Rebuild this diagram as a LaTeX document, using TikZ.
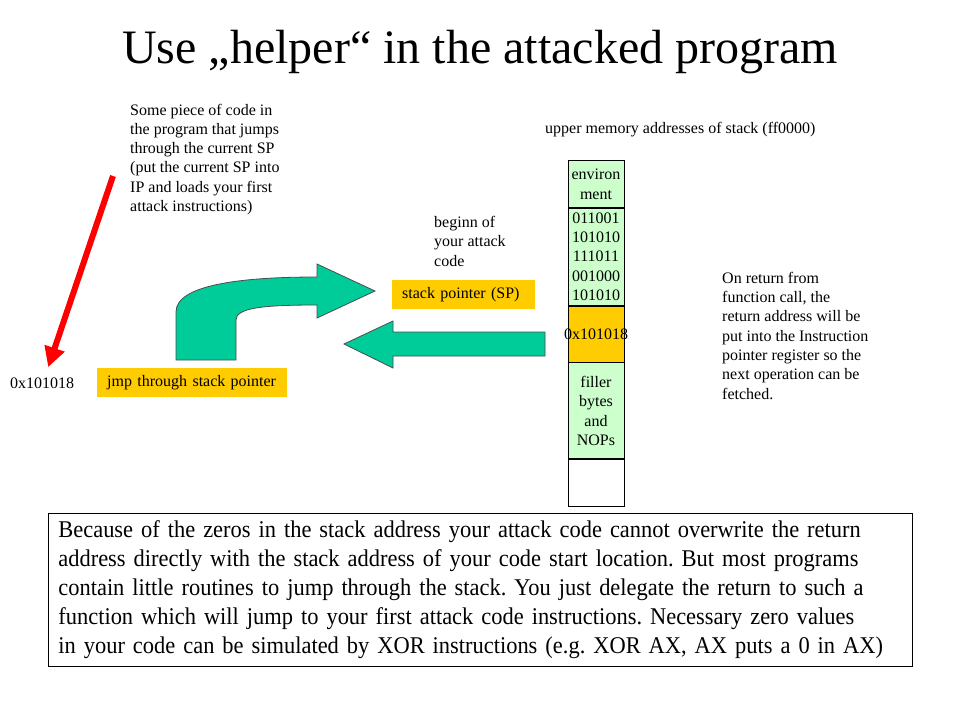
\documentclass[tikz,border=0pt]{standalone}
\usepackage{fontspec}
\setmainfont{Liberation Serif}
\newfontfamily\boxfont[FakeStretch=0.935]{Liberation Serif}
\usepackage{xcolor}
\usepackage{tikz}
\usetikzlibrary{arrows.meta,calc,positioning}

\definecolor{arrowgreen}{RGB}{0,204,153}
\definecolor{boxyellow}{RGB}{255,204,0}
\definecolor{stackgreen}{RGB}{204,255,204}
\newcommand{\notefont}{\fontsize{16}{19.3}\selectfont}
\newcommand{\explfont}{\boxfont\fontsize{24}{29}\selectfont\frenchspacing\hyphenpenalty=10000 \exhyphenpenalty=10000 }

\begin{document}
\begin{tikzpicture}[x=1pt,y=-1pt,>=Latex,
    note/.style={align=left,inner sep=0pt,anchor=base west,font=\notefont},
    ybox/.style={fill=boxyellow,anchor=north west,inner xsep=10pt,inner ysep=0pt,align=left,font=\notefont},
    cell/.style={draw,fill=stackgreen,line width=0.8pt,minimum width=56pt,inner sep=0pt,align=center,font=\notefont},
    blockarrow/.style={fill=arrowgreen,draw=black!70,line width=0.8pt,line join=miter}]
  \useasboundingbox (0,0) rectangle (960,720);
  \node[anchor=base,font=\fontsize{48}{56}\selectfont] (title) at (480,63) {Use „helper“ in the attacked program};
  % multi-line notes sit on the baseline of their last line
  \node[note] (piece) at (130,211.5) {Some piece of code in\\the program that jumps\\through the current SP\\(put the current SP into\\IP and loads your first\\attack instructions)};
  \node[note] (begin) at (434,266) {beginn of\\your attack\\code};
  \node[note] (onret) at (722,399) {On return from\\function call, the\\return address will be\\put into the Instruction\\pointer register so the\\next operation can be\\fetched.};
  \node[note] (upper) at (545,133) {upper memory addresses of stack (ff0000)};
  \node[note] (addr) at (10,388) {0x101018};
  \node[ybox,minimum width=190pt,minimum height=29pt,text width=170pt] (jmp) at (97,368) {jmp through stack pointer};
  \node[ybox,minimum width=143pt,minimum height=29pt,text width=123pt] (sp) at (392,280) {stack pointer (SP)};
  \node[cell,minimum height=47pt,anchor=north,font=\fontsize{16}{20}\selectfont] (env) at (596,160) {environ\\ment};
  \node[cell,minimum height=97pt,below=0pt of env] (bits) {011001\\101010\\111011\\001000\\101010};
  \node[cell,fill=boxyellow,minimum height=56pt,below=0pt of bits] (ret) {\makebox[56pt]{0x101018}};
  \node[cell,minimum height=96pt,below=0pt of ret] (filler) {filler\\bytes\\and\\NOPs};
  \node[cell,fill=white,minimum height=47pt,below=0pt of filler] (empty) {};
  \filldraw[blockarrow] (176,360) -- (176,312) .. controls (176,285) and (240,277) .. (317,277)
    -- (317,264) -- (375,291) -- (317,318) -- (317,305) .. controls (262,305) and (236,308) .. (236,320) -- (236,360) -- cycle;
  \filldraw[blockarrow] (545,332) -- (393,332) -- (393,321) -- (344,344) -- (393,368) -- (393,356) -- (545,356) -- cycle;
  \coordinate (redtail) at (113,176);
  \draw[red,line width=6pt,-{Triangle[width=20pt,length=20pt]}] (redtail) -- ([xshift=6pt,yshift=10pt]addr.north);
  \node[draw,line width=0.8pt,anchor=north west,minimum width=864pt,minimum height=153pt,text width=844pt,inner xsep=10pt,align=left,font=\explfont] (expl) at (48,513)
    {Because of the zeros in the stack address your attack code cannot overwrite the return\\address directly with the stack address of your code start location. But most programs\\contain little routines to jump through the stack. You just delegate the return to such a\\function which will jump to your first attack code instructions. Necessary zero values\\in your code can be simulated by XOR instructions (e.g. XOR AX, AX puts a 0 in AX)};
\end{tikzpicture}
\end{document}
